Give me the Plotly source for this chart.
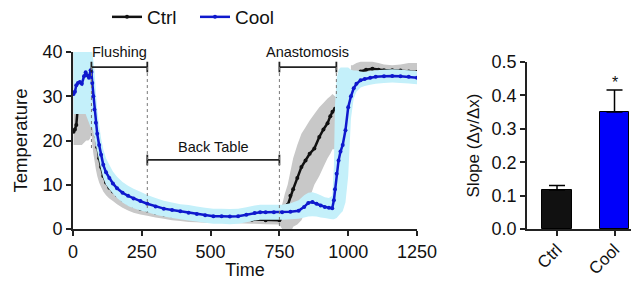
import plotly.graph_objects as go

# ---------------- data ----------------
cool_t = [2, 7, 12, 18, 25, 32, 40, 46, 52, 58, 64, 67, 70, 74, 78, 83, 88, 95, 102, 110,
          120, 132, 145, 160, 180, 200, 220, 245, 270, 300, 330, 360, 390, 420, 450, 480,
          510, 540, 570, 600, 630, 660, 680, 700, 730, 760, 790, 820, 840, 855, 870, 885,
          900, 915, 930, 942, 948, 952, 958, 965, 972, 980, 990, 1000, 1010, 1020, 1030,
          1045, 1060, 1080, 1100, 1130, 1160, 1190, 1220, 1250]
cool_mean = [30.5, 31, 32.5, 33, 33.2, 32.8, 34.5, 35.4, 34.7, 34.2, 35.9, 35.5, 33, 30, 27, 24,
             21.5, 19, 16.8, 14.5, 12.8, 11.5, 10.3, 9.2, 8.2, 7.5, 6.9, 6.3, 5.7, 5.1, 4.6,
             4.3, 4.0, 3.7, 3.4, 3.1, 2.9, 2.9, 2.8, 2.9, 3.2, 3.6, 3.8, 3.8, 3.8, 3.8, 3.9,
             4.1, 5.0, 5.9, 6.1, 5.7, 5.3, 5.0, 4.8, 4.7, 6.5, 9, 12.5, 15.5, 17.5, 19, 22.3,
             27.5, 30, 31.8, 32.8, 33.6, 33.9, 34.2, 34.4, 34.5, 34.6, 34.5, 34.4, 34.2]
cool_lo = [26, 26, 26, 26, 26, 26, 26, 26, 25, 24, 23, 23, 23, 22, 20.5, 19, 17.5, 15.5,
           13.5, 11.5, 10, 9, 8, 7, 6, 5.2, 4.7, 4.2, 3.8, 3.2, 2.8, 2.5, 2.2, 1.9, 1.7, 1.4,
           1.2, 1.2, 1.1, 1.2, 1.5, 1.9, 2.1, 2.1, 2.1, 2.1, 2.2, 2.3, 2.6, 2.8, 2.9, 2.8,
           2.6, 2.5, 2.3, 2.2, 2.2, 2.3, 2.5, 3, 3.5, 4, 6, 12, 25, 29.5, 31, 32, 32.3, 32.6,
           32.8, 33, 33.1, 33, 32.9, 32.7]
cool_hi = [40, 40, 40, 40, 40, 40, 40, 40, 40, 40, 40, 40, 40, 38, 36, 31, 27, 23.5, 20.5, 18,
           16, 14.5, 13, 11.8, 10.6, 9.8, 9.1, 8.4, 7.7, 7, 6.4, 6, 5.6, 5.4, 5.1, 4.8, 4.6,
           4.6, 4.5, 4.6, 4.9, 5.3, 5.5, 5.5, 5.5, 5.5, 5.8, 6.5, 7.6, 8.2, 8.3, 8.0, 7.6, 7.2,
           7, 7.5, 14, 28, 34, 36, 36.5, 36.5, 36.5, 36.5, 36, 35.8, 35.8, 35.6, 35.5, 35.7,
           35.9, 36, 36.1, 36, 35.9, 35.7]

ctrl_t = [2, 7, 12, 18, 25, 32, 40, 48, 56, 63, 67, 70, 74, 78, 83, 88, 95, 102, 110, 120,
          132, 145, 160, 180, 200, 220, 245, 270, 300, 330, 360, 390, 420, 450, 480, 510, 560,
          600, 650, 700, 750, 770, 780, 790, 800, 815, 830, 845, 860, 877, 895, 910, 925, 935,
          943, 952, 961, 970, 990, 1010, 1016, 1030, 1045, 1065, 1088, 1110, 1130, 1160, 1190,
          1220, 1250]
ctrl_mean = [22, 22.5, 23.5, 28, 30.5, 32, 33, 33.5, 34, 34.5, 33, 30, 27, 24, 21, 18.5, 16,
             14, 12, 10.5, 9.3, 8.5, 7.6, 6.6, 5.8, 5.2, 4.6, 4.2, 3.7, 3.3, 3.0, 2.8, 2.6,
             2.5, 2.4, 2.3, 2.3, 2.2, 2.1, 2.0, 2.0, 3.5, 5.5, 7.5, 9, 11.5, 14, 15.5, 17, 18.2,
             20.8, 22.5, 23.9, 25.5, 26.5, 27.2, 26.1, 27.5, None, 33.0, 33.6, 35, 35.6, 36,
             36.2, 36, 35.9, 35.9, 35.8, 35.6, 35.5]
ctrl_lo = [19, 19, 19, 19, 19, 19, 19.5, 20, 20, 20.5, 22, 19, 17, 15.5, 13.5, 12, 10.5, 9.5,
           8.5, 7.6, 6.9, 6.3, 5.6, 4.8, 4.2, 3.7, 3.3, 3.0, 2.6, 2.3, 2.0, 1.8, 1.6, 1.5, 1.4,
           1.4, 1.4, 1.3, 1.2, 1.1, 1.0, -1, -1, -1, 0.5, 1, 2, 4, 7, 10, 12, 14, 16, 17, 18,
           18, 20, 24, None, 32, 32, 33.5, 34.2, 34.5, 34.8, 34.5, 34.5, 34.5, 34.3, 34, 34]
ctrl_hi = [40, 40, 40, 40, 40, 40, 40, 40, 40, 39.5, 39, 36, 33, 30, 27, 24.5, 21.5, 18.5,
           15.5, 13.4, 11.7, 10.7, 9.6, 8.4, 7.4, 6.7, 5.9, 5.4, 4.8, 4.3, 4.0, 3.8, 3.6, 3.5,
           3.4, 3.4, 3.4, 3.1, 3.0, 2.9, 3.0, 8, 10, 13, 16, 19, 21.5, 23, 24.5, 26, 27.5,
           28.5, 29.5, 30, 30.5, 30, 29.5, 29, None, 37, 37, 37.5, 37.8, 37.8, 37.8, 37.5,
           37.2, 37, 37.2, 37.5, 37.5]

groups = ["Ctrl", "Cool"]
slope = [0.117, 0.350]
slope_err = [0.013, 0.066]

legend_names = ["Ctrl", "Cool"]
phases = [("Flushing", 67, 270, 36.6), ("Back Table", 270, 750, 15.6), ("Anastomosis", 750, 957, 36.6)]

# ---------------- styling ----------------
FONT = "Arial, Liberation Sans, sans-serif"
BLACK = "#111111"
BLUE_LINE = "rgb(15,25,205)"
BLUE_BAR = "rgb(0,0,250)"
GRAY_BAND = "rgb(200,200,200)"
CYAN_BAND = "rgb(196,240,250)"


def band_polys(t, lo, hi):
    segs, cur = [], []
    for ti, l, h in zip(t, lo, hi):
        if l is None or h is None:
            if cur:
                segs.append(cur)
            cur = []
        else:
            cur.append((ti, l, h))
    if cur:
        segs.append(cur)
    return segs


def add_band(fig, t, lo, hi, col):
    for seg in band_polys(t, lo, hi):
        xs = [s[0] for s in seg] + [s[0] for s in reversed(seg)]
        ys = [s[2] for s in seg] + [s[1] for s in reversed(seg)]
        fig.add_trace(go.Scatter(x=xs, y=ys, fill="toself", fillcolor=col, mode="none",
                                 line=dict(width=0), showlegend=False, hoverinfo="skip",
                                 xaxis="x", yaxis="y"))


fig = go.Figure()

# drawing order: ctrl band, ctrl line, cool band, cool line
add_band(fig, ctrl_t, ctrl_lo, ctrl_hi, GRAY_BAND)
fig.add_trace(go.Scatter(x=ctrl_t, y=ctrl_mean, mode="lines+markers", name=legend_names[0],
                         line=dict(color=BLACK, width=2.5), marker=dict(size=4, color=BLACK),
                         connectgaps=False, xaxis="x", yaxis="y"))
add_band(fig, cool_t, cool_lo, cool_hi, CYAN_BAND)
fig.add_trace(go.Scatter(x=cool_t, y=cool_mean, mode="lines+markers", name=legend_names[1],
                         line=dict(color=BLUE_LINE, width=2.5), marker=dict(size=4, color=BLUE_LINE),
                         xaxis="x", yaxis="y"))

fig.add_trace(go.Bar(x=[0, 1], y=slope, width=0.52,
                     marker=dict(color=[BLACK, BLUE_BAR], line=dict(color="#000000", width=1)),
                     error_y=dict(type="data", array=slope_err, arrayminus=[0, 0], symmetric=False,
                                  color="#000000", thickness=1.5, width=8),
                     showlegend=False, xaxis="x2", yaxis="y2"))

shapes = []
annotations = []
for name, a, b, yb in phases:
    shapes.append(dict(type="line", xref="x", yref="y", x0=a, x1=b, y0=yb, y1=yb,
                       line=dict(color="#222222", width=1.8)))
    for xe in (a, b):
        shapes.append(dict(type="line", xref="x", yref="y", x0=xe, x1=xe, y0=yb - 1.2, y1=yb + 1.2,
                           line=dict(color="#222222", width=1.8)))
    annotations.append(dict(x=(a + b) / 2, y=yb + 3.4 if yb > 30 else yb + 2.9, xref="x", yref="y",
                            text=name, showarrow=False, font=dict(family=FONT, size=14.5, color=BLACK)))

# dotted guide lines
for xe, y0, y1 in ((67, 36.6, 18), (270, 36.6, 3.9), (750, 36.6, 0), (957, 36.6, 29.6)):
    shapes.append(dict(type="line", xref="x", yref="y", x0=xe, x1=xe, y0=y0, y1=y1,
                       line=dict(color="#777777", width=1, dash="dot")))

annotations.append(dict(x=1, y=0.44, xref="x2", yref="y2", text="*", showarrow=False,
                        font=dict(family=FONT, size=16, color=BLACK)))

# page body adds an 8px offset; lay the figure out in window pixels minus that offset
OFF = 8
W, H = 631, 272


def px_x(p):
    return (p - OFF) / W


def px_y(p):
    return 1 - (p - OFF) / H


axis_common = dict(showline=True, linecolor="#222222", linewidth=1.8, ticks="outside",
                   ticklen=5, tickwidth=1.5, tickcolor="#222222", showgrid=False, zeroline=False,
                   automargin=False)
tickfont = dict(family=FONT, size=18, color=BLACK)

fig.update_layout(
    width=W, height=H, autosize=False,
    margin=dict(l=0, r=0, t=0, b=0, autoexpand=False),
    paper_bgcolor="white", plot_bgcolor="white",
    font=dict(family=FONT, color=BLACK),
    shapes=shapes, annotations=annotations,
    bargap=0,
    legend=dict(orientation="h", x=px_x(107), y=px_y(-2), xanchor="left", yanchor="top",
                font=dict(family=FONT, size=19, color=BLACK), bgcolor="rgba(0,0,0,0)",
                itemwidth=30, entrywidth=43),
    xaxis=dict(domain=[px_x(73), px_x(417)], range=[0, 1250], tickvals=[0, 250, 500, 750, 1000, 1250],
               tickfont=tickfont,
               title=dict(text="Time", font=dict(family=FONT, size=18, color=BLACK), standoff=6),
               anchor="y", **axis_common),
    yaxis=dict(domain=[px_y(229), px_y(52)], range=[0, 40], tickvals=[0, 10, 20, 30, 40],
               tickfont=tickfont,
               title=dict(text="Temperature", font=dict(family=FONT, size=18.5, color=BLACK), standoff=10),
               anchor="x", **axis_common),
    xaxis2=dict(domain=[px_x(527), 1.0], range=[-0.522, 1.426], tickvals=[0, 1], ticktext=groups,
                tickangle=-45, tickfont=dict(family=FONT, size=17, color=BLACK),
                ticklabelstandoff=-3, anchor="y2", **axis_common),
    yaxis2=dict(domain=[px_y(229), px_y(62)], range=[0, 0.5],
                tickvals=[0, 0.1, 0.2, 0.3, 0.4, 0.5], tickformat=".1f", tickfont=tickfont,
                title=dict(text="Slope (Δy/Δx)", font=dict(family=FONT, size=17, color=BLACK), standoff=8),
                anchor="x2", **axis_common),
)

fig.write_html("out.html")
